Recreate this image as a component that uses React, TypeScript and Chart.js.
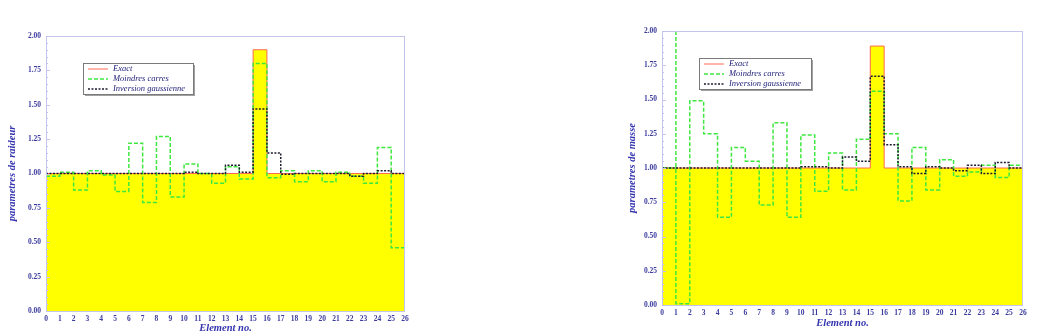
import React, { useEffect, useRef } from "react";
import { Chart, registerables } from "chart.js";

Chart.register(...registerables);

// ---- data -------------------------------------------------------------
// element k spans x = k .. k+1  (26 elements, axis ticks 0..26)
const xTickLabels = [
  "0", "1", "2", "3", "4", "5", "6", "7", "8", "9", "10", "11", "12", "13",
  "14", "15", "16", "17", "18", "19", "20", "21", "22", "23", "24", "25", "26",
];
const yTickValues = [0, 0.25, 0.5, 0.75, 1.0, 1.25, 1.5, 1.75, 2.0];

const legendLabels = ["Exact", "Moindres carres", "Inversion gaussienne"];

// stiffness (raideur)
const stiffExact = [
  1, 1, 1, 1, 1, 1, 1, 1, 1, 1, 1, 1, 1, 1, 1, 1.9, 1, 1, 1, 1, 1, 1, 1, 1, 1, 1,
];
const stiffLsq = [
  0.98, 1.01, 0.88, 1.02, 0.99, 0.87, 1.22, 0.79, 1.27, 0.83, 1.07, 1.0, 0.93,
  1.05, 0.96, 1.8, 0.97, 1.02, 0.94, 1.02, 0.94, 1.01, 0.98, 0.93, 1.19, 0.46,
];
const stiffGauss = [
  1.0, 1.0, 1.0, 1.0, 1.0, 1.0, 1.0, 1.0, 1.0, 1.0, 1.01, 1.0, 1.0, 1.06, 1.01,
  1.47, 1.15, 0.995, 1.0, 1.0, 1.0, 1.0, 0.98, 1.0, 1.02, 1.0,
];

// mass (masse)
const massExact = [
  1, 1, 1, 1, 1, 1, 1, 1, 1, 1, 1, 1, 1, 1, 1, 1.89, 1, 1, 1, 1, 1, 1, 1, 1, 1, 1,
];
const massLsq = [
  1.0, 0.01, 1.49, 1.25, 0.64, 1.15, 1.05, 0.73, 1.33, 0.64, 1.24, 0.83, 1.11,
  0.84, 1.21, 1.56, 1.25, 0.76, 1.15, 0.84, 1.06, 0.94, 0.97, 1.02, 0.93, 1.02,
];
// least-squares mass curve overshoots the frame at the boundary of element 1
const massLsqSpikeAt = 1;
const massLsqSpikeValue = 2.0;
const massGauss = [
  1.0, 1.0, 1.0, 1.0, 1.0, 1.0, 1.0, 1.0, 1.0, 1.0, 1.01, 1.01, 1.0, 1.08, 1.05,
  1.67, 1.17, 1.01, 0.96, 1.01, 1.0, 0.98, 1.02, 0.96, 1.04, 1.0,
];

// ---- helpers ----------------------------------------------------------
function stepPoints(values: number[], spikeAt?: number, spikeValue?: number) {
  const pts: { x: number; y: number | null }[] = [];
  values.forEach((v, i) => {
    if (spikeAt !== undefined && i === spikeAt && spikeValue !== undefined) {
      // finish previous element, break the line, restart at the spike top
      pts.push({ x: i, y: values[i - 1] });
      pts.push({ x: i, y: null });
      pts.push({ x: i, y: spikeValue });
    }
    pts.push({ x: i, y: v });
  });
  pts.push({ x: values.length, y: values[values.length - 1] });
  return pts;
}

const TICK_COLOR = "#3b3b9e";
const TITLE_COLOR = "#3434b0";
const FRAME_COLOR = "#c4c4ec";
const SERIF = "'Liberation Serif', 'DejaVu Serif', serif";

const framePlugin = {
  id: "frameAndTicks",
  afterDatasetsDraw(chart: any) {
    const { ctx, chartArea: a, scales } = chart;
    ctx.save();
    ctx.strokeStyle = FRAME_COLOR;
    ctx.lineWidth = 1;
    ctx.strokeRect(a.left + 0.5, a.top + 0.5, a.right - a.left - 1, a.bottom - a.top);
    // inward ticks on the y axis
    const y = scales.y;
    for (let k = 0; k <= 40; k++) {
      const v = k * 0.05;
      const py = Math.round(y.getPixelForValue(v)) + 0.5;
      const len = k % 5 === 0 ? 4 : 2;
      ctx.beginPath();
      ctx.moveTo(a.left, py);
      ctx.lineTo(a.left + len, py);
      ctx.stroke();
    }
    ctx.restore();
  },
};

const boxLegendPlugin = {
  id: "boxLegend",
  afterDraw(chart: any, _args: any, opts: any) {
    const { ctx, chartArea: a } = chart;
    const x = a.left + opts.dx;
    const y = a.top + opts.dy;
    const w = opts.w;
    const h = 31;
    ctx.save();
    ctx.fillStyle = "#a0a0a0";
    ctx.fillRect(x + 2, y + 2, w, h);
    ctx.fillStyle = "#ffffff";
    ctx.fillRect(x, y, w, h);
    ctx.strokeStyle = "#7a7a7a";
    ctx.lineWidth = 1;
    ctx.strokeRect(x + 0.5, y + 0.5, w, h);
    const ds = chart.data.datasets;
    ds.forEach((d: any, i: number) => {
      const ry = y + 6 + i * 10;
      ctx.beginPath();
      ctx.strokeStyle = d.borderColor;
      ctx.lineWidth = i === 0 ? 1 : 1.5;
      ctx.setLineDash(d.borderDash || []);
      ctx.moveTo(x + 5, ry);
      ctx.lineTo(x + 25, ry);
      ctx.stroke();
      ctx.setLineDash([]);
      ctx.fillStyle = "#24247a";
      ctx.font = `italic 8.5px ${SERIF}`;
      ctx.textBaseline = "middle";
      ctx.fillText(d.label, x + 30, ry);
    });
    ctx.restore();
  },
};

type PanelProps = {
  left: number;
  width: number;
  yTitle: string;
  exact: number[];
  lsq: { x: number; y: number | null }[];
  gauss: number[];
  pad: { left: number; top: number; right: number; bottom: number };
  yAxisWidth: number;
  xAxisHeight: number;
  yTitlePad: number;
  legendW: number;
};

function Panel(p: PanelProps) {
  const ref = useRef<HTMLCanvasElement | null>(null);
  useEffect(() => {
    if (!ref.current) return;
    const chart = new Chart(ref.current, {
      type: "line",
      data: {
        datasets: [
          {
            label: legendLabels[0],
            data: stepPoints(p.exact),
            stepped: "before",
            borderColor: "#ff6a50",
            borderWidth: 1,
            backgroundColor: "#ffff00",
            fill: "origin",
            pointRadius: 0,
            order: 2,
          },
          {
            label: legendLabels[1],
            data: p.lsq,
            stepped: "before",
            borderColor: "#3ee83e",
            borderWidth: 1.5,
            borderDash: [4, 2],
            fill: false,
            spanGaps: false,
            pointRadius: 0,
            order: 1,
          },
          {
            label: legendLabels[2],
            data: stepPoints(p.gauss),
            stepped: "before",
            borderColor: "#1c1c30",
            borderWidth: 1.5,
            borderDash: [2, 1.5],
            fill: false,
            pointRadius: 0,
            order: 0,
          },
        ],
      },
      options: {
        animation: false,
        responsive: false,
        events: [],
        layout: { padding: p.pad },
        plugins: {
          legend: { display: false },
          tooltip: { enabled: false },
          boxLegend: { dx: 37, dy: 27, w: p.legendW },
        } as any,
        scales: {
          x: {
            type: "linear",
            min: 0,
            max: 26,
            afterBuildTicks: (scale: any) => {
              scale.ticks = xTickLabels.map((t) => ({ value: Number(t) }));
            },
            afterFit: (scale: any) => {
              scale.height = p.xAxisHeight;
            },
            grid: { display: false, drawTicks: false },
            border: { display: false },
            ticks: {
              color: TICK_COLOR,
              font: { family: SERIF, size: 7.5, weight: "bold" },
              padding: 4,
              maxRotation: 0,
              autoSkip: false,
              callback: (v: any) => String(v),
            },
            title: {
              display: true,
              text: "Element no.",
              color: TITLE_COLOR,
              font: { family: SERIF, size: 10.5, weight: "bold", style: "italic" },
              padding: 0,
            },
          },
          y: {
            type: "linear",
            min: 0,
            max: 2,
            afterBuildTicks: (scale: any) => {
              scale.ticks = yTickValues.map((v) => ({ value: v }));
            },
            afterFit: (scale: any) => {
              scale.width = p.yAxisWidth;
            },
            grid: { display: false, drawTicks: false },
            border: { display: false },
            ticks: {
              color: TICK_COLOR,
              font: { family: SERIF, size: 7.5, weight: "bold" },
              padding: 5,
              callback: (v: any) => Number(v).toFixed(2),
            },
            title: {
              display: true,
              text: p.yTitle,
              color: TITLE_COLOR,
              font: { family: SERIF, size: 10.5, weight: "bold", style: "italic" },
              padding: { top: p.yTitlePad, bottom: 0 },
            },
          },
        },
      },
      plugins: [framePlugin, boxLegendPlugin],
    } as any);
    return () => chart.destroy();
  }, []);
  return (
    <canvas
      ref={ref}
      width={p.width}
      height={335}
      style={{ position: "absolute", left: p.left, top: 0, width: p.width, height: 335 }}
    />
  );
}

export default function App() {
  return (
    <div
      style={{
        position: "absolute",
        left: 0,
        top: 0,
        width: 1045,
        height: 335,
        background: "#ffffff",
        overflow: "hidden",
      }}
    >
      <Panel
        left={0}
        width={420}
        yTitle="parametres de raideur"
        exact={stiffExact}
        lsq={stepPoints(stiffLsq)}
        gauss={stiffGauss}
        pad={{ left: 0, top: 36, right: 15, bottom: 0 }}
        yAxisWidth={46}
        xAxisHeight={24}
        yTitlePad={6}
        legendW={110}
      />
      <Panel
        left={615}
        width={430}
        yTitle="parametres de masse"
        exact={massExact}
        lsq={stepPoints(massLsq, massLsqSpikeAt, massLsqSpikeValue)}
        gauss={massGauss}
        pad={{ left: 0, top: 31, right: 22, bottom: 5 }}
        yAxisWidth={47}
        xAxisHeight={25}
        yTitlePad={11}
        legendW={112}
      />
    </div>
  );
}
